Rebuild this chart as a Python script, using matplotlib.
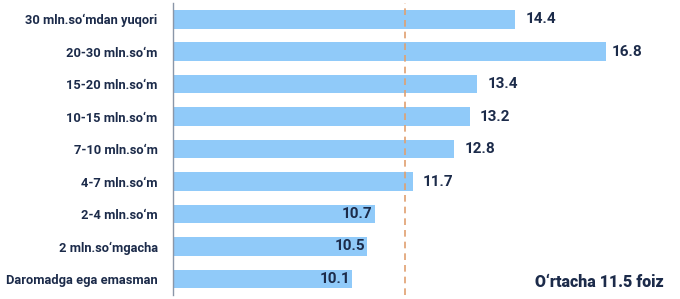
import matplotlib
matplotlib.use("Agg")
import matplotlib.pyplot as plt

categories = [
    "30 mln.so\u2018mdan yuqori",
    "20-30 mln.so\u2018m",
    "15-20 mln.so\u2018m",
    "10-15 mln.so\u2018m",
    "7-10 mln.so\u2018m",
    "4-7 mln.so\u2018m",
    "2-4 mln.so\u2018m",
    "2 mln.so\u2018mgacha",
    "Daromadga ega emasman",
]
values = [14.4, 16.8, 13.4, 13.2, 12.8, 11.7, 10.7, 10.5, 10.1]
average = 11.5
note = "O\u2018rtacha 11.5 foiz"

BAR = "#90CAF9"
TEXT = "#1C2B4A"
plt.rcParams["font.family"] = ["Roboto", "DejaVu Sans"]

fig = plt.figure(figsize=(6.8, 2.99), dpi=100)
ax = fig.add_axes([0.2544, 0.013, 0.7456, 0.977])

y = range(len(categories))
ax.barh(y, values, height=0.575, color=BAR, zorder=2)
ax.axvline(average, color="#E0A070", linestyle=(0, (4, 3)), linewidth=1.2, zorder=3)

ax.set_xlim(5.38, 18.75)
ax.set_ylim(len(categories) - 0.5, -0.5)
ax.set_yticks(list(y))
ax.set_yticklabels(categories, fontsize=9.3, color=TEXT, fontweight="semibold")
ax.tick_params(axis="y", length=0, pad=11)
ax.set_xticks([])
for side in ("top", "right", "bottom"):
    ax.spines[side].set_visible(False)
ax.spines["left"].set_color("#8A96A8")
ax.spines["left"].set_linewidth(1.0)

# labels of the short bars sit inside the bar end, the rest just outside
vmax = max(values)
for yi, v in zip(y, values):
    if v < average:
        ax.annotate(f"{v:.1f}", (v, yi), xytext=(-1.5, 0), textcoords="offset points",
                    ha="right", va="center", fontsize=11, color=TEXT,
                    fontweight="semibold", zorder=4)
    else:
        off = 4 if v == vmax else 7.5
        ax.annotate(f"{v:.1f}", (v, yi), xytext=(off, 0), textcoords="offset points",
                    ha="left", va="center", fontsize=11, color=TEXT,
                    fontweight="semibold", zorder=4)

fig.text(664 / 680, 1 - 282 / 299, note, ha="right", va="center",
         fontsize=11.5, fontweight="heavy", color=TEXT)

fig.savefig("out.png", dpi=100)
